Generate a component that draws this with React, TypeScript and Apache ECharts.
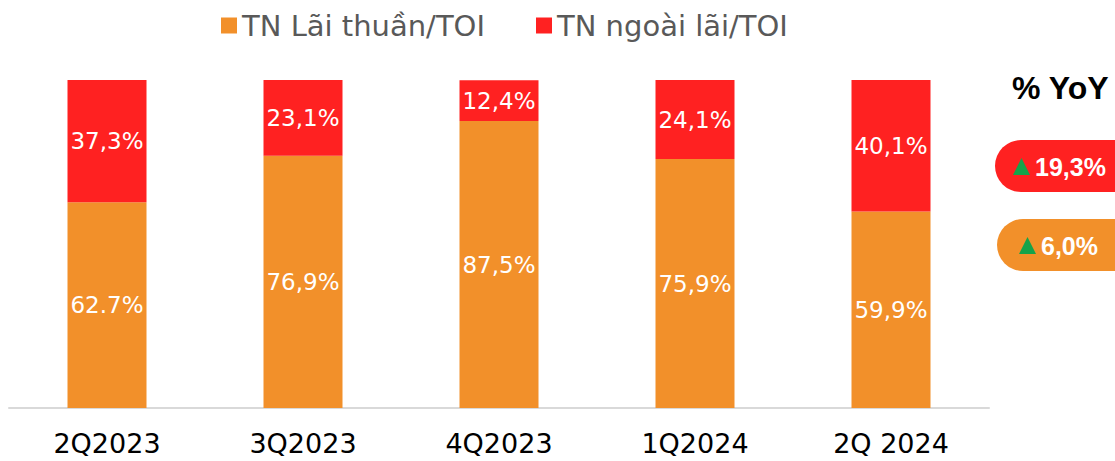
import React, { useEffect, useRef } from "react";
import * as echarts from "echarts";

const categories = ["2Q2023", "3Q2023", "4Q2023", "1Q2024", "2Q 2024"];
const netInterest = [62.7, 76.9, 87.5, 75.9, 59.9];
const nonInterest = [37.3, 23.1, 12.4, 24.1, 40.1];
const netInterestLabels = ["62.7%", "76,9%", "87,5%", "75,9%", "59,9%"];
const nonInterestLabels = ["37,3%", "23,1%", "12,4%", "24,1%", "40,1%"];
const seriesNames = ["TN Lãi thuần/TOI", "TN ngoài lãi/TOI"];
const yoyTitle = "% YoY";
const yoyValues = ["19,3%", "6,0%"];

const ORANGE = "#F2902A";
const RED = "#FF2121";
const GREEN = "#16A34A";

export default function App() {
  const ref = useRef<HTMLDivElement>(null);
  useEffect(() => {
    if (!ref.current) return;
    const chart = echarts.init(ref.current, undefined, { renderer: "svg" });
    const font = "'Liberation Sans', Arial, sans-serif";
    const wide = "'DejaVu Sans', sans-serif";
    const pill = (y: number, x: number, color: string, val: string, triX: number) => ({
      type: "group",
      children: [
        { type: "rect", shape: { x, y, width: 160, height: 52, r: 26 }, style: { fill: color } },
        {
          type: "polygon",
          shape: { points: [[triX, y + 35], [triX + 17, y + 35], [triX + 8.5, y + 18]] },
          style: { fill: GREEN },
        },
        {
          type: "text",
          x: triX + 22,
          y: y + 27,
          style: { text: val, fill: "#fff", font: `bold 25px ${font}`, verticalAlign: "middle" },
        },
      ],
    });
    chart.setOption({
      animation: false,
      legend: {
        top: 6,
        left: 216,
        icon: "rect",
        itemWidth: 16,
        itemHeight: 16,
        itemGap: 51,
        textStyle: { fontSize: 29, color: "#595959", fontFamily: wide },
        data: seriesNames,
      },
      grid: { left: 9, right: 126, top: 80, bottom: 53 },
      xAxis: {
        type: "category",
        data: categories,
        axisLine: { lineStyle: { color: "#d9d9d9", width: 2 } },
        axisTick: { show: false },
        axisLabel: { fontSize: 27, color: "#000", fontFamily: wide, margin: 22 },
      },
      yAxis: { type: "value", min: 0, max: 100, show: false, splitLine: { show: false } },
      series: [
        {
          name: seriesNames[0],
          type: "bar",
          stack: "total",
          barWidth: 79,
          data: netInterest,
          itemStyle: { color: ORANGE },
          label: {
            show: true,
            position: "inside",
            color: "#fff",
            fontSize: 23,
            fontFamily: wide,
            formatter: (p: any) => netInterestLabels[p.dataIndex],
          },
        },
        {
          name: seriesNames[1],
          type: "bar",
          stack: "total",
          barWidth: 79,
          data: nonInterest,
          itemStyle: { color: RED },
          label: {
            show: true,
            position: "inside",
            color: "#fff",
            fontSize: 23,
            fontFamily: wide,
            formatter: (p: any) => nonInterestLabels[p.dataIndex],
          },
        },
      ],
      graphic: [
        {
          type: "text",
          x: 1012,
          y: 88,
          style: { text: yoyTitle, fill: "#000", font: `bold 32px ${font}`, verticalAlign: "middle" },
        },
        pill(140, 995, RED, yoyValues[0], 1013),
        pill(219, 997, ORANGE, yoyValues[1], 1019),
      ],
    });
    return () => chart.dispose();
  }, []);
  return <div ref={ref} style={{ width: 1115, height: 461, position: "absolute", left: 0, top: 0 }} />;
}
